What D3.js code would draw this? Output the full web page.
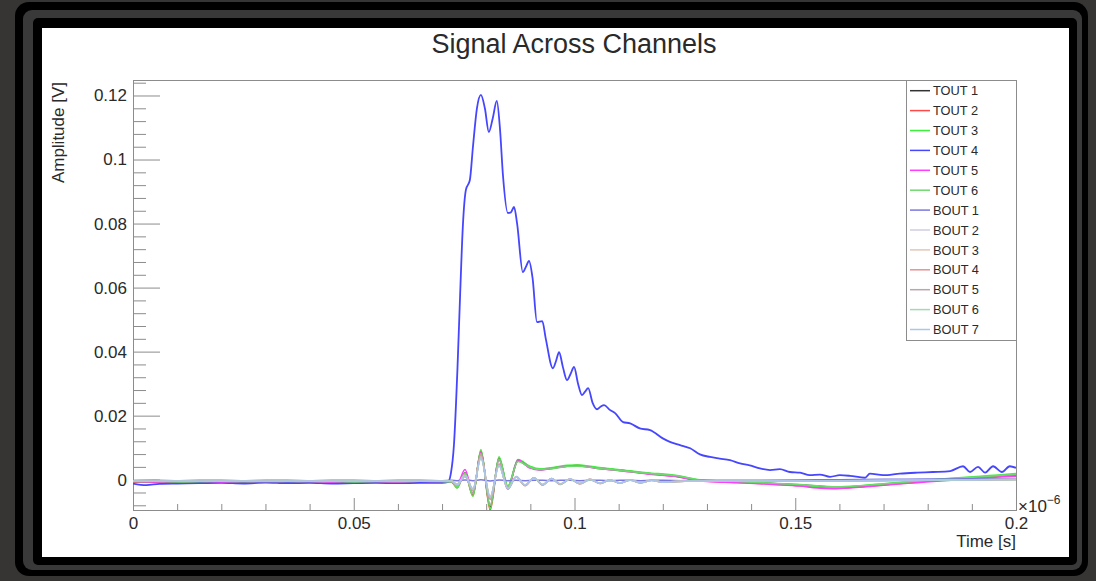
<!DOCTYPE html>
<html>
<head>
<meta charset="utf-8">
<script src="https://cdn.jsdelivr.net/npm/d3@7"></script>
<style>
  body { margin: 0; background: #363534; }
  svg { display: block; }
  text { font-family: "Liberation Sans", Arial, sans-serif; }
</style>
</head>
<body>
<svg width="1096" height="581"></svg>
<script>
// time in units of 1e-6 s, amplitude in V
const channelNames = ["TOUT 1", "TOUT 2", "TOUT 3", "TOUT 4", "TOUT 5", "TOUT 6",
  "BOUT 1", "BOUT 2", "BOUT 3", "BOUT 4", "BOUT 5", "BOUT 6", "BOUT 7"];

const xTicks = [0, 0.05, 0.1, 0.15, 0.2];
const xTickLabels = ["0", "0.05", "0.1", "0.15", "0.2"];
const yTicks = [0, 0.02, 0.04, 0.06, 0.08, 0.1, 0.12];
const yTickLabels = ["0", "0.02", "0.04", "0.06", "0.08", "0.1", "0.12"];

const tTout4 = [0, 0.003, 0.006, 0.01, 0.015, 0.02, 0.025, 0.03, 0.035, 0.04, 0.045, 0.05, 0.055, 0.06, 0.065,
  0.0700, 0.0713, 0.0720, 0.0727, 0.0735, 0.0741, 0.0747, 0.0754, 0.0763, 0.0770,
  0.0779, 0.0788, 0.0797, 0.0806, 0.0815, 0.0824, 0.0831, 0.0838, 0.0849, 0.0856,
  0.0863, 0.0870, 0.0883, 0.0890, 0.0897, 0.0905, 0.0915, 0.0927, 0.0935, 0.0951,
  0.0958, 0.0965, 0.0974, 0.0983, 0.0991, 0.0999, 0.1008, 0.1017, 0.1024, 0.1031,
  0.1041, 0.1051, 0.1059, 0.1067, 0.1080, 0.1092, 0.1110, 0.1126, 0.1148, 0.1171,
  0.1200, 0.1216, 0.1239, 0.1262, 0.1284, 0.1307, 0.1329, 0.1352, 0.1375, 0.1397,
  0.1420, 0.1443, 0.1465, 0.1488, 0.1511, 0.1533, 0.1556, 0.1579, 0.1601, 0.1624,
  0.1658, 0.1669, 0.1699, 0.1737, 0.1776, 0.1812, 0.1851, 0.1880, 0.1896, 0.1914,
  0.1930, 0.1948, 0.1968, 0.1986, 0.2];
const vTout4 = [-0.0012, -0.0017, -0.0013, -0.0012, -0.0011, -0.0010, -0.0012, -0.0009, -0.0011, -0.0010, -0.0012, -0.0011, -0.0010, -0.0011, -0.0010,
  -0.0010, -0.0008, 0.0020, 0.0110, 0.0350, 0.0580, 0.0789, 0.0905, 0.0936, 0.1040,
  0.1160, 0.1202, 0.1160, 0.1086, 0.1130, 0.1183, 0.1100, 0.0950, 0.0833, 0.0835,
  0.0852, 0.0800, 0.0648, 0.0665, 0.0683, 0.0630, 0.0492, 0.0495, 0.0440, 0.0348,
  0.0370, 0.0398, 0.0350, 0.0311, 0.0330, 0.0352, 0.0300, 0.0264, 0.0275, 0.0286,
  0.0240, 0.0220, 0.0228, 0.0233, 0.0218, 0.0208, 0.0180, 0.0176, 0.0160, 0.0155,
  0.0129, 0.0118, 0.0108, 0.0098, 0.0079, 0.0071, 0.0066, 0.0061, 0.0051, 0.0045,
  0.0035, 0.0030, 0.0033, 0.0024, 0.0022, 0.0014, 0.0016, 0.0009, 0.0014, 0.0012,
  0.0006, 0.0019, 0.0014, 0.0019, 0.0022, 0.0024, 0.0027, 0.0042, 0.0024, 0.0040,
  0.0022, 0.0042, 0.0024, 0.0042, 0.0037];

// shared time samples of the other TOUT channels
const tTout = [0, 0.005, 0.01, 0.015, 0.02, 0.025, 0.03, 0.035, 0.04, 0.045, 0.05, 0.055, 0.06, 0.065, 0.07,
  0.0722, 0.0734, 0.0752, 0.0770, 0.0788, 0.0809, 0.0829, 0.0849,
  0.0872, 0.0899, 0.0922, 0.0945, 0.0983, 0.1006, 0.1051, 0.1103, 0.1164, 0.1232,
  0.1284, 0.1340, 0.1397, 0.1450, 0.1511, 0.1550, 0.1586, 0.1630, 0.1669, 0.1720,
  0.1770, 0.1820, 0.1870, 0.1920, 0.1960, 0.2];
const vTout1 = [-0.0007, -0.0006, -0.0008, -0.0007, -0.0006, -0.0007, -0.0005, -0.0006, -0.0004, -0.0006, -0.0007, -0.0006, -0.0005, -0.0006, -0.0006,
  -0.0007, -0.0023, 0.0022, -0.0046, 0.0088, -0.0085, 0.0068, -0.0022,
  0.0060, 0.0040, 0.0031, 0.0035, 0.0043, 0.0044, 0.0037, 0.0030, 0.0020, 0.0011,
  -0.0002, -0.0005, -0.0008, -0.0012, -0.0016, -0.0020, -0.0024, -0.0022, -0.0019, -0.0012,
  -0.0006, -0.0002, 0.0004, 0.0008, 0.0012, 0.0016];
const vTout2 = [-0.0008, -0.0007, -0.0006, -0.0008, -0.0007, -0.0005, -0.0007, -0.0006, -0.0007, -0.0005, -0.0006, -0.0008, -0.0006, -0.0007, -0.0005,
  -0.0008, -0.0025, 0.0020, -0.0050, 0.0090, -0.0095, 0.0066, -0.0025,
  0.0058, 0.0038, 0.0033, 0.0036, 0.0042, 0.0045, 0.0036, 0.0029, 0.0019, 0.0010,
  -0.0003, -0.0007, -0.0010, -0.0014, -0.0019, -0.0024, -0.0027, -0.0024, -0.0020, -0.0014,
  -0.0008, -0.0003, 0.0002, 0.0006, 0.0010, 0.0013];
const vTout3 = [-0.0005, -0.0006, -0.0005, -0.0007, -0.0005, -0.0006, -0.0004, -0.0006, -0.0005, -0.0004, -0.0006, -0.0005, -0.0004, -0.0006, -0.0005,
  -0.0006, -0.0026, 0.0021, -0.0052, 0.0094, -0.0090, 0.0072, -0.0020,
  0.0063, 0.0042, 0.0034, 0.0037, 0.0045, 0.0046, 0.0039, 0.0031, 0.0022, 0.0013,
  0.0000, -0.0004, -0.0008, -0.0013, -0.0018, -0.0022, -0.0025, -0.0021, -0.0016, -0.0010,
  -0.0004, 0.0001, 0.0006, 0.0011, 0.0015, 0.0019];
const vTout5 = [-0.0006, -0.0007, -0.0006, -0.0005, -0.0007, -0.0006, -0.0006, -0.0005, -0.0006, -0.0007, -0.0005, -0.0006, -0.0007, -0.0005, -0.0006,
  -0.0006, -0.0015, 0.0032, -0.0042, 0.0085, -0.0080, 0.0062, -0.0030,
  0.0062, 0.0036, 0.0030, 0.0034, 0.0042, 0.0043, 0.0035, 0.0028, 0.0018, 0.0009,
  -0.0004, -0.0008, -0.0011, -0.0015, -0.0020, -0.0026, -0.0028, -0.0025, -0.0021, -0.0015,
  -0.0010, -0.0005, 0.0000, 0.0004, 0.0008, 0.0011];
const vTout6 = [-0.0006, -0.0005, -0.0007, -0.0006, -0.0005, -0.0006, -0.0006, -0.0005, -0.0006, -0.0005, -0.0007, -0.0006, -0.0006, -0.0005, -0.0006,
  -0.0007, -0.0022, 0.0019, -0.0044, 0.0082, -0.0080, 0.0064, -0.0021,
  0.0057, 0.0039, 0.0032, 0.0034, 0.0041, 0.0042, 0.0036, 0.0029, 0.0020, 0.0012,
  -0.0001, -0.0004, -0.0007, -0.0011, -0.0015, -0.0019, -0.0022, -0.0020, -0.0017, -0.0011,
  -0.0005, 0.0000, 0.0005, 0.0009, 0.0013, 0.0017];

// shared time samples of the BOUT channels
const tBout = [0, 0.005, 0.01, 0.015, 0.02, 0.025, 0.03, 0.035, 0.04, 0.045, 0.05, 0.055, 0.06, 0.065, 0.07,
  0.0722, 0.0734, 0.0752, 0.0770, 0.0788, 0.0809, 0.0829, 0.0849,
  0.0868, 0.0888, 0.0908, 0.0928, 0.0948, 0.0968, 0.0990, 0.1012, 0.1035, 0.1058,
  0.1080, 0.1103, 0.1126, 0.1150, 0.1175, 0.1200, 0.1250, 0.1300, 0.1400, 0.1500,
  0.1600, 0.1700, 0.1800, 0.1900, 0.2];
const vBout1 = [-0.0003, -0.0002, -0.0003, -0.0002, -0.0002, -0.0003, -0.0002, -0.0002, -0.0003, -0.0002, -0.0002, -0.0003, -0.0002, -0.0002, -0.0003,
  -0.0002, -0.0003, -0.0001, -0.0003, 0.0000, -0.0004, -0.0001, -0.0003,
  -0.0002, -0.0003, -0.0002, -0.0002, -0.0003, -0.0002, -0.0002, -0.0003, -0.0002, -0.0002,
  -0.0003, -0.0002, -0.0002, -0.0003, -0.0002, -0.0002, -0.0003, -0.0002, -0.0002, -0.0001,
  0.0000, 0.0001, 0.0002, 0.0003, 0.0004];
const vBout2 = [-0.0005, -0.0004, -0.0005, -0.0004, -0.0005, -0.0004, -0.0004, -0.0005, -0.0004, -0.0005, -0.0004, -0.0004, -0.0005, -0.0004, -0.0004,
  -0.0005, -0.0016, 0.0012, -0.0030, 0.0068, -0.0056, 0.0044, -0.0028,
  0.0008, -0.0018, 0.0005, -0.0016, 0.0003, -0.0015, 0.0002, -0.0013, 0.0001, -0.0012,
  0.0000, -0.0011, -0.0001, -0.0010, -0.0002, -0.0008, -0.0005, -0.0004, -0.0005, -0.0004,
  -0.0004, -0.0003, -0.0002, -0.0001, 0.0000];
const vBout3 = [-0.0004, -0.0005, -0.0004, -0.0004, -0.0005, -0.0004, -0.0005, -0.0004, -0.0004, -0.0005, -0.0004, -0.0005, -0.0004, -0.0004, -0.0005,
  -0.0004, -0.0014, 0.0014, -0.0028, 0.0072, -0.0052, 0.0046, -0.0026,
  0.0010, -0.0017, 0.0006, -0.0015, 0.0004, -0.0014, 0.0002, -0.0012, 0.0001, -0.0011,
  0.0000, -0.0010, -0.0001, -0.0009, -0.0002, -0.0007, -0.0004, -0.0005, -0.0004, -0.0003,
  -0.0003, -0.0002, -0.0001, 0.0000, 0.0001];
const vBout4 = [-0.0005, -0.0004, -0.0004, -0.0005, -0.0004, -0.0005, -0.0004, -0.0004, -0.0005, -0.0004, -0.0005, -0.0004, -0.0004, -0.0005, -0.0004,
  -0.0005, -0.0018, 0.0010, -0.0034, 0.0078, -0.0062, 0.0050, -0.0030,
  0.0009, -0.0019, 0.0006, -0.0017, 0.0004, -0.0015, 0.0002, -0.0013, 0.0001, -0.0012,
  -0.0001, -0.0011, -0.0001, -0.0010, -0.0002, -0.0008, -0.0005, -0.0005, -0.0004, -0.0004,
  -0.0003, -0.0003, -0.0002, -0.0001, 0.0001];
const vBout5 = [-0.0004, -0.0004, -0.0005, -0.0004, -0.0004, -0.0005, -0.0004, -0.0005, -0.0004, -0.0004, -0.0005, -0.0004, -0.0005, -0.0004, -0.0004,
  -0.0004, -0.0017, 0.0011, -0.0031, 0.0070, -0.0058, 0.0047, -0.0029,
  0.0009, -0.0018, 0.0005, -0.0016, 0.0003, -0.0014, 0.0002, -0.0013, 0.0000, -0.0012,
  -0.0001, -0.0010, -0.0002, -0.0009, -0.0002, -0.0008, -0.0005, -0.0004, -0.0004, -0.0003,
  -0.0004, -0.0002, -0.0002, -0.0001, 0.0000];
const vBout6 = [-0.0004, -0.0005, -0.0004, -0.0005, -0.0004, -0.0004, -0.0005, -0.0004, -0.0005, -0.0004, -0.0004, -0.0005, -0.0004, -0.0005, -0.0004,
  -0.0004, -0.0015, 0.0013, -0.0029, 0.0066, -0.0054, 0.0043, -0.0027,
  0.0008, -0.0017, 0.0005, -0.0015, 0.0003, -0.0014, 0.0001, -0.0012, 0.0000, -0.0011,
  -0.0001, -0.0010, -0.0002, -0.0009, -0.0003, -0.0007, -0.0005, -0.0004, -0.0004, -0.0004,
  -0.0003, -0.0003, -0.0002, -0.0001, 0.0000];
const vBout7 = [-0.0005, -0.0005, -0.0004, -0.0005, -0.0005, -0.0004, -0.0005, -0.0005, -0.0004, -0.0005, -0.0005, -0.0004, -0.0005, -0.0005, -0.0004,
  -0.0005, -0.0016, 0.0012, -0.0031, 0.0070, -0.0055, 0.0045, -0.0028,
  0.0010, -0.0016, 0.0006, -0.0015, 0.0004, -0.0013, 0.0003, -0.0012, 0.0001, -0.0011,
  0.0000, -0.0010, -0.0001, -0.0009, -0.0002, -0.0008, -0.0004, -0.0004, -0.0004, -0.0003,
  -0.0003, -0.0002, -0.0001, 0.0000, 0.0001];

const channelColors = ["#333333", "#ff4a4a", "#3cf03c", "#4646ff", "#ff3cff", "#6fd86f",
  "#7a78e0", "#cfcfdf", "#e4c6b6", "#e49494", "#c0a4aa", "#a6d8b6", "#aec4ea"];

const channelTimes = [tTout, tTout, tTout, tTout4, tTout, tTout, tBout, tBout, tBout, tBout, tBout, tBout, tBout];
const channelValues = [vTout1, vTout2, vTout3, vTout4, vTout5, vTout6,
  vBout1, vBout2, vBout3, vBout4, vBout5, vBout6, vBout7];

const svg = d3.select("svg");

// window frame around the canvas
svg.append("rect").attr("x", 15).attr("y", 2).attr("width", 1073).attr("height", 574)
  .attr("rx", 14).attr("fill", "#000");
svg.append("rect").attr("x", 23).attr("y", 10).attr("width", 1059).attr("height", 560)
  .attr("rx", 9).attr("fill", "#3a3939");
svg.append("rect").attr("x", 33).attr("y", 18).attr("width", 1044).attr("height", 547)
  .attr("rx", 5).attr("fill", "#000");
svg.append("rect").attr("x", 42).attr("y", 28).attr("width", 1027).attr("height", 529)
  .attr("fill", "#fff");

const plotLeft = 133, plotRight = 1016, plotTop = 80, plotBottom = 510;
const x = d3.scaleLinear().domain([0, 0.2]).range([plotLeft, plotRight]);
const y = d3.scaleLinear().domain([-0.00947, 0.12484]).range([plotBottom, plotTop]);

const axisColor = "#8c8c8c", textColor = "#2a2a2a";

// minor ticks
const yMinor = d3.range(-0.008, 0.1241, 0.004).filter(v => Math.abs(v / 0.02 - Math.round(v / 0.02)) > 1e-6);
const xMinor = d3.range(0.01, 0.2, 0.01).filter(v => Math.abs(v / 0.05 - Math.round(v / 0.05)) > 1e-6);

const gy = svg.append("g").attr("transform", `translate(${plotLeft},0)`);
gy.append("g").call(d3.axisLeft(y).tickValues(yMinor).tickSize(-13).tickFormat(""));
gy.append("g").call(d3.axisLeft(y).tickValues(yTicks).tickSize(-27).tickPadding(6)
  .tickFormat((d, i) => yTickLabels[i]));
gy.selectAll(".domain").remove();
gy.selectAll("line").attr("stroke", axisColor);
gy.selectAll("text").attr("fill", textColor).style("font-size", "17px");

const gx = svg.append("g").attr("transform", `translate(0,${plotBottom})`);
gx.append("g").call(d3.axisBottom(x).tickValues(xMinor).tickSize(-6).tickFormat(""));
gx.append("g").call(d3.axisBottom(x).tickValues(xTicks).tickSize(-12).tickPadding(7)
  .tickFormat((d, i) => xTickLabels[i]));
gx.selectAll(".domain").remove();
gx.selectAll("line").attr("stroke", axisColor);
gx.selectAll("text").attr("fill", textColor).style("font-size", "17px");

// plot frame
svg.append("rect").attr("x", plotLeft + 0.5).attr("y", plotTop + 0.5)
  .attr("width", plotRight - plotLeft).attr("height", plotBottom - plotTop)
  .attr("fill", "none").attr("stroke", axisColor);

svg.append("defs").append("clipPath").attr("id", "plotClip")
  .append("rect").attr("x", plotLeft).attr("y", plotTop)
  .attr("width", plotRight - plotLeft).attr("height", plotBottom - plotTop);

const line = d3.line()
  .x(d => x(d[0]))
  .y(d => y(d[1]))
  .curve(d3.curveMonotoneX);

const traces = svg.append("g").attr("clip-path", "url(#plotClip)");
channelNames.forEach((name, i) => {
  traces.append("path")
    .datum(d3.zip(channelTimes[i], channelValues[i]))
    .attr("fill", "none")
    .attr("stroke", channelColors[i])
    .attr("stroke-width", i === 3 ? 1.8 : 1.5)
    .attr("stroke-linejoin", "round")
    .attr("d", line);
});

// title and axis titles
svg.append("text").attr("x", 574).attr("y", 53).attr("text-anchor", "middle")
  .attr("fill", textColor).style("font-size", "27px").text("Signal Across Channels");

svg.append("text").attr("transform", "translate(64,82) rotate(-90)")
  .attr("text-anchor", "end").attr("fill", textColor).style("font-size", "17px")
  .text("Amplitude [V]");

svg.append("text").attr("x", plotRight).attr("y", 547).attr("text-anchor", "end")
  .attr("fill", textColor).style("font-size", "17px").text("Time [s]");

const expo = svg.append("text").attr("x", 1018).attr("y", 512)
  .attr("fill", textColor).style("font-size", "17px");
expo.append("tspan").text("\u00d710");
expo.append("tspan").attr("dy", -8).style("font-size", "12px").text("\u22126");

// legend
const legend = svg.append("g");
legend.append("rect").attr("x", 906.5).attr("y", 80.5).attr("width", 110).attr("height", 260)
  .attr("fill", "#fff").attr("stroke", axisColor);
const rows = legend.selectAll("g.row").data(channelNames).join("g")
  .attr("class", "row")
  .attr("transform", (d, i) => `translate(0,${90.7 + i * 19.9})`);
rows.append("line").attr("x1", 910).attr("x2", 930)
  .attr("stroke", (d, i) => channelColors[i]).attr("stroke-width", 1.5);
rows.append("text").attr("x", 933).attr("dy", "0.36em")
  .attr("fill", textColor).style("font-size", "12.8px").text(d => d);
</script>
</body>
</html>
